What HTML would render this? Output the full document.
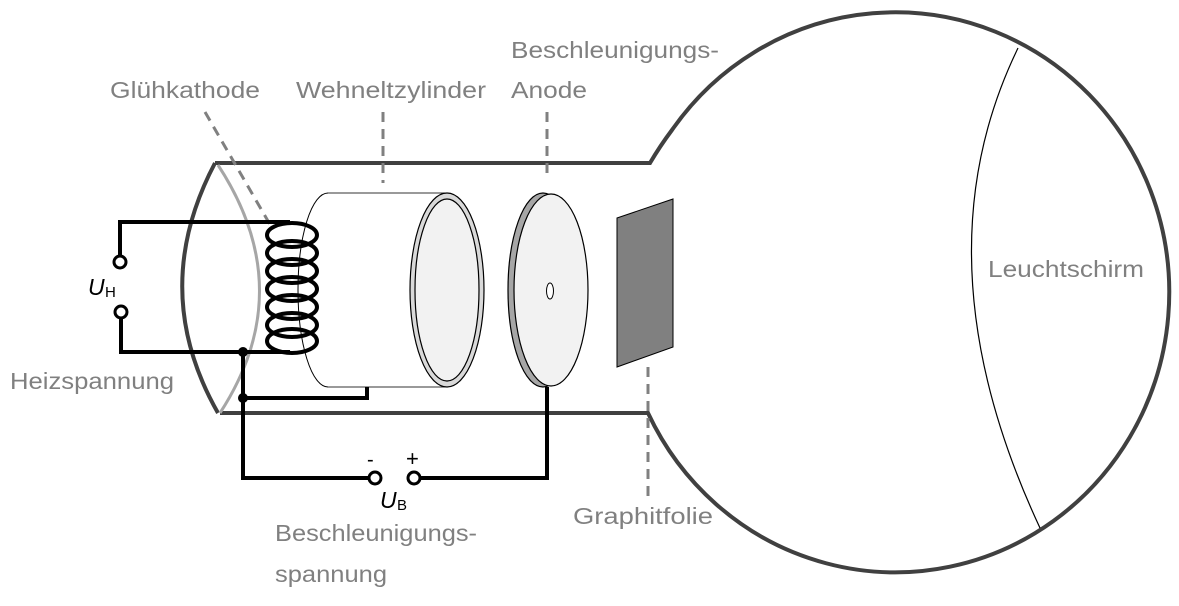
<!DOCTYPE html>
<html><head><meta charset="utf-8"><style>
html,body{margin:0;padding:0;background:#fff;width:1179px;height:606px;overflow:hidden}
svg{display:block}
.l{font-family:"Liberation Sans",sans-serif;font-size:23px;fill:#808080}
</style></head><body>
<svg width="1179" height="606" viewBox="0 0 1179 606" xmlns="http://www.w3.org/2000/svg">
<path d="M215,163 L650,163 Q660,146 672,130 A274,280 0 1 1 648,413 L220,413" fill="none" stroke="#404040" stroke-width="4"/>
<path d="M215,163 Q148,290 218,413" fill="none" stroke="#404040" stroke-width="4"/>
<path d="M218,165 Q300,290 220,413" fill="none" stroke="#a6a6a6" stroke-width="3"/>
<path d="M1018,48 Q915,260 1040,528" fill="none" stroke="#000" stroke-width="1.2"/>
<g stroke="#808080" stroke-width="3" stroke-dasharray="10,7" fill="none">
<line x1="205" y1="112" x2="272" y2="228"/>
<line x1="383" y1="112" x2="383" y2="183"/>
<line x1="547" y1="112" x2="547" y2="180"/>
<line x1="648" y1="367" x2="648" y2="500"/>
</g>
<ellipse cx="328" cy="290" rx="30" ry="97" fill="#fff" stroke="#000" stroke-width="1"/>
<path d="M328,193 L447,193 L447,387 L328,387" fill="#fff" stroke="none"/>
<line x1="328" y1="193" x2="447" y2="193" stroke="#333" stroke-width="1"/>
<line x1="328" y1="387" x2="447" y2="387" stroke="#333" stroke-width="1"/>
<ellipse cx="447" cy="290" rx="37" ry="97" fill="#d9d9d9" stroke="#000" stroke-width="1.2"/>
<ellipse cx="447" cy="290" rx="32" ry="91" fill="#f2f2f2" stroke="#000" stroke-width="1.2"/>
<ellipse cx="543" cy="290" rx="35" ry="97" fill="#a6a6a6" stroke="#000" stroke-width="1.2"/>
<ellipse cx="551" cy="290" rx="37" ry="96" fill="#f2f2f2" stroke="#000" stroke-width="1.2"/>
<ellipse cx="550" cy="291" rx="3.5" ry="8" fill="#fff" stroke="#000" stroke-width="1"/>
<polygon points="617,218 673,199 673,347 617,367" fill="#808080" stroke="#000" stroke-width="1"/>
<g fill="none" stroke="#000" stroke-width="4">
<ellipse cx="292" cy="235" rx="25" ry="12"/>
<ellipse cx="292" cy="253" rx="25" ry="12"/>
<ellipse cx="292" cy="271" rx="25" ry="12"/>
<ellipse cx="292" cy="289" rx="25" ry="12"/>
<ellipse cx="292" cy="307" rx="25" ry="12"/>
<ellipse cx="292" cy="325" rx="25" ry="12"/>
<ellipse cx="292" cy="341" rx="25" ry="12"/>
</g>
<g fill="none" stroke="#000" stroke-width="4">
<polyline points="290,222 120,222 120,256"/>
<polyline points="121,318 121,352 290,352"/>
<polyline points="243,352 243,478 369,478"/>
<polyline points="243,398 367,398 367,387"/>
<polyline points="420,478 547,478 547,387"/>
</g>
<circle cx="243" cy="352" r="5" fill="#000"/>
<circle cx="243" cy="398" r="5" fill="#000"/>
<g fill="#fff" stroke="#000" stroke-width="3">
<circle cx="120" cy="262" r="6"/>
<circle cx="121" cy="312" r="6"/>
<circle cx="375" cy="478" r="6"/>
<circle cx="414" cy="478" r="6"/>
</g>
<text class="l" x="110" y="98" textLength="150" lengthAdjust="spacingAndGlyphs">Glühkathode</text>
<text class="l" x="296" y="98" textLength="190" lengthAdjust="spacingAndGlyphs">Wehneltzylinder</text>
<text class="l" x="511" y="58" textLength="208" lengthAdjust="spacingAndGlyphs">Beschleunigungs-</text>
<text class="l" x="511" y="98" textLength="76" lengthAdjust="spacingAndGlyphs">Anode</text>
<text class="l" x="10" y="389" textLength="164" lengthAdjust="spacingAndGlyphs">Heizspannung</text>
<text class="l" x="275" y="541" textLength="202" lengthAdjust="spacingAndGlyphs">Beschleunigungs-</text>
<text class="l" x="275" y="582" textLength="112" lengthAdjust="spacingAndGlyphs">spannung</text>
<text class="l" x="573" y="524" textLength="140" lengthAdjust="spacingAndGlyphs">Graphitfolie</text>
<text class="l" x="988" y="277" textLength="156" lengthAdjust="spacingAndGlyphs">Leuchtschirm</text>
<text x="88" y="295" font-family="Liberation Sans,sans-serif" font-size="23" font-style="italic">U</text>
<text x="105" y="297" font-family="Liberation Sans,sans-serif" font-size="15">H</text>
<text x="380" y="508" font-family="Liberation Sans,sans-serif" font-size="23" font-style="italic">U</text>
<text x="397" y="510" font-family="Liberation Sans,sans-serif" font-size="15">B</text>
<text x="367" y="466" font-family="Liberation Sans,sans-serif" font-size="20">-</text>
<text x="406" y="466" font-family="Liberation Sans,sans-serif" font-size="22">+</text>
</svg>
</body></html>
